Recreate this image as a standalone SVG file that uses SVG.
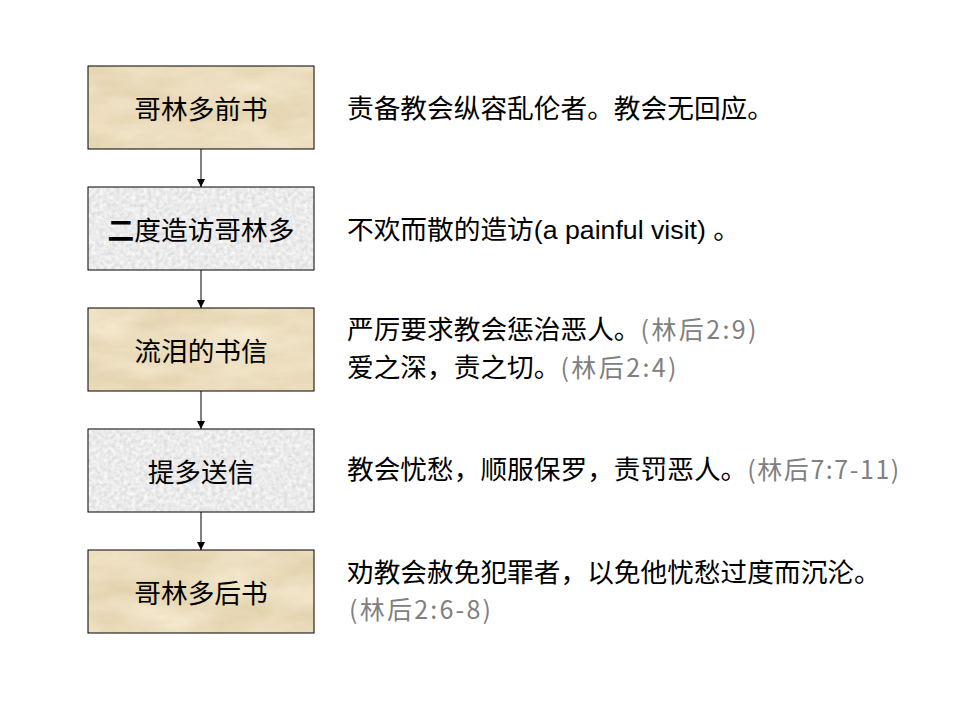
<svg xmlns="http://www.w3.org/2000/svg" width="960" height="720" viewBox="0 0 960 720">
<style>
.lbl{font-family:"Noto Sans CJK SC","Liberation Sans",sans-serif;font-size:26.7px;fill:#000;text-anchor:middle}
.txt{font-family:"Liberation Sans","Noto Sans CJK SC",sans-serif;font-size:26.7px;fill:#000}
.ref{fill:#808080;font-family:"Noto Sans CJK SC",sans-serif;font-size:25px}
.frame{fill:none;stroke:#000;stroke-width:1}
.conn{stroke:#000;stroke-width:1;fill:none}
</style>
<defs>
<filter id="parch" x="0" y="0" width="100%" height="100%" color-interpolation-filters="sRGB">
<feTurbulence type="fractalNoise" baseFrequency="0.015 0.04" numOctaves="5" seed="7" result="n"/>
<feColorMatrix in="n" type="matrix" values="0.10 0 0 0 0.87  0.13 0 0 0 0.80  0.2 0 0 0 0.64  0 0 0 0 1"/>
</filter>
<filter id="granite" x="0" y="0" width="100%" height="100%" color-interpolation-filters="sRGB">
<feTurbulence type="fractalNoise" baseFrequency="0.25" numOctaves="4" seed="4" result="n"/>
<feColorMatrix in="n" type="matrix" values="0.18 0 0 0 0.83  0.18 0 0 0 0.83  0.18 0 0 0 0.83  0 0 0 0 1"/>
</filter>
<marker id="arr" viewBox="0 0 10 10" refX="10" refY="5" markerWidth="8" markerHeight="8" markerUnits="userSpaceOnUse" orient="auto">
<path d="M0,0 L10,5 L0,10 z" fill="#000"/>
</marker>
</defs>
<rect width="960" height="720" fill="#fff"/>
<g id="connectors">
<line class="conn" x1="201" y1="149" x2="201" y2="187" marker-end="url(#arr)"/>
<line class="conn" x1="201" y1="270" x2="201" y2="308" marker-end="url(#arr)"/>
<line class="conn" x1="201" y1="391" x2="201" y2="429" marker-end="url(#arr)"/>
<line class="conn" x1="201" y1="512" x2="201" y2="550" marker-end="url(#arr)"/>
</g>
<g id="node1">
<rect x="88" y="66" width="226" height="83" filter="url(#parch)"/>
<rect class="frame" x="88" y="66" width="226" height="83"/>
<text class="lbl" x="201" y="119">哥林多前书</text>
</g>
<g id="node2">
<rect x="88" y="187" width="226" height="83" filter="url(#granite)"/>
<rect class="frame" x="88" y="187" width="226" height="83"/>
<text class="lbl" x="201" y="240"><tspan font-weight="bold">二</tspan>度造访哥林多</text>
</g>
<g id="node3">
<rect x="88" y="308" width="226" height="83" filter="url(#parch)"/>
<rect class="frame" x="88" y="308" width="226" height="83"/>
<text class="lbl" x="201" y="361">流泪的书信</text>
</g>
<g id="node4">
<rect x="88" y="429" width="226" height="83" filter="url(#granite)"/>
<rect class="frame" x="88" y="429" width="226" height="83"/>
<text class="lbl" x="201" y="482">提多送信</text>
</g>
<g id="node5">
<rect x="88" y="550" width="226" height="83" filter="url(#parch)"/>
<rect class="frame" x="88" y="550" width="226" height="83"/>
<text class="lbl" x="201" y="603">哥林多后书</text>
</g>
<g id="descriptions">
<text class="txt" x="347" y="118">责备教会纵容乱伦者。教会无回应。</text>
<text class="txt" x="347" y="239">不欢而散的造访(a painful visit) 。</text>
<text class="txt" x="347" y="339">严厉要求教会惩治恶人。<tspan class="ref" textLength="116" lengthAdjust="spacing">(林后2:9)</tspan></text>
<text class="txt" x="347" y="377">爱之深，责之切。<tspan class="ref" textLength="116" lengthAdjust="spacing">(林后2:4)</tspan></text>
<text class="txt" x="347" y="479">教会忧愁，顺服保罗，责罚恶人。<tspan class="ref" textLength="152" lengthAdjust="spacing">(林后7:7-11)</tspan></text>
<text class="txt" x="347" y="582">劝教会赦免犯罪者，以免他忧愁过度而沉沦。</text>
<text class="txt ref" x="349" y="619" textLength="142" lengthAdjust="spacing">(林后2:6-8)</text>
</g>
</svg>
